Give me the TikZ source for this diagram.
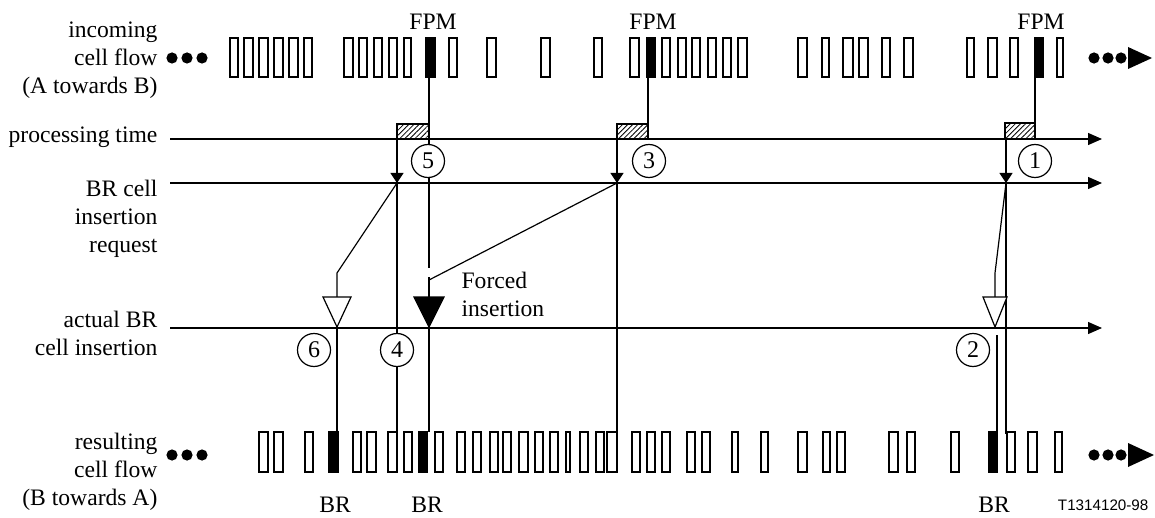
\documentclass[tikz,border=0pt]{standalone}
\usepackage{fontspec}
\setmainfont{Liberation Serif}
\newfontfamily\sansf{Liberation Sans}
\usetikzlibrary{arrows.meta,patterns.meta}
\begin{document}
\begin{tikzpicture}[x=0.5pt,y=-0.5pt,line width=0.6pt,
  lbl/.style={font=\fontsize{11.8}{14}\selectfont,inner sep=0pt},
  cellbox/.style={draw,line width=0.6pt,fill=white},
  brbox/.style={draw,line width=0.6pt,fill=black},
  num/.style={circle,draw,fill=white,minimum size=16.5pt,inner sep=0pt,font=\fontsize{12}{12}\selectfont},
  hatchbox/.style={draw,pattern={Lines[angle=45,distance=1.8pt,line width=0.4pt]}},
  timeline/.style={-{Triangle[length=7pt,width=6pt]}},
  reqarrow/.style={-{Triangle[length=5pt,width=6.5pt]}},
  opentri/.style={draw,fill=white},
  filltri/.style={draw,fill=black},
]
\useasboundingbox (0,0) rectangle (1155,518);

% ---------- labels on the left
\node[lbl,anchor=east,align=right] (linc) at (158,60) {incoming\\cell flow\\(A towards B)};
\node[lbl,anchor=east] (lproc) at (158,137) {processing time};
\node[lbl,anchor=east,align=right] (lreq) at (158,219) {BR cell\\insertion\\request};
\node[lbl,anchor=east,align=right] (lact) at (158,333) {actual BR\\cell insertion};
\node[lbl,anchor=east,align=right] (lres) at (158,472) {resulting\\cell flow\\(B towards A)};

% ---------- time lines
\coordinate (procA) at (170,139); \coordinate (procB) at (1102,139);
\coordinate (reqA) at (170,183);  \coordinate (reqB) at (1102,183);
\coordinate (actA) at (170,328);  \coordinate (actB) at (1102,328);
\draw[timeline] (procA) -- (procB);
\draw[timeline] (reqA) -- (reqB);
\draw[timeline] (actA) -- (actB);

% ---------- key points
\coordinate (r5) at (397,183);
\coordinate (r3) at (617,183);
\coordinate (r1) at (1006,183);
\coordinate (b6) at (337,432);
\coordinate (b4) at (397,432);
\coordinate (b5) at (429,432);
\coordinate (b3) at (617,432);
\coordinate (b2) at (997,432);
\coordinate (b1) at (1006,434);

% ---------- connectors
% FPM 1 (forced insertion)
\draw (429,77) -- (429,268);
\draw (429,277) -- (429,297);
\draw (429,327) -- (b5);
\draw[reqarrow] (397,139) -- (r5);
\draw (r5) -- (b4);
\draw (r5) -- (337,273) -- (337,297);
\draw (337,327) -- (b6);
% FPM 2
\draw (648,77) -- (648,124);
\draw[reqarrow] (617,139) -- (r3);
\draw (r3) -- (b3);
\draw (r3) -- (429,280);
% FPM 3
\draw (1035,77) -- (1035,123);
\draw[reqarrow] (1006,139) -- (r1);
\draw (r1) -- (b1);
\draw (r1) -- (995,273) -- (995,297);
\draw (997,335) -- (b2);

% ---------- processing boxes
\draw[hatchbox] (397,124) rectangle (429,139);
\draw[hatchbox] (617,124) rectangle (648,139);
\draw[hatchbox] (1005,123) rectangle (1035,139);

% ---------- insertion triangles
\draw[opentri] (323,297) -- (351,297) -- (337,327) -- cycle;
\draw[filltri] (414,297) -- (444,297) -- (429,327) -- cycle;
\draw[opentri] (983,297) -- (1007,297) -- (995,327) -- cycle;

% ---------- numbered circles
\node[num] (c5) at (428,161) {\raisebox{-2pt}{5}};
\node[num] (c3) at (649,161) {\raisebox{-2pt}{3}};
\node[num] (c1) at (1035,161) {\raisebox{-2pt}{1}};
\node[num] (c6) at (314,350) {\raisebox{-2pt}{6}};
\node[num] (c4) at (397,350) {\raisebox{-2pt}{4}};
\node[num] (c2) at (973,350) {\raisebox{-2pt}{2}};

% ---------- incoming cell flow
\foreach \a/\b in {230/238,244/253,259/268,274/283,289/298,304/312,344/353,359/367,374/382,389/397,404/411,449/457,487/496,541/550,594/602,630/639,662/670,678/686,692/700,708/716,723/731,738/747,798/807,822/829,843/853,859/868,882/890,904/913,967/974,988/997,1010/1018,1057/1063}
  \draw[cellbox] (\a,38) rectangle (\b,77);
\foreach \a/\b in {426/435,647/655,1035/1043}
  \draw[brbox] (\a,38) rectangle (\b,77);

% ---------- resulting cell flow
\foreach \a/\b in {259/268,274/283,305/313,353/361,367/376,388/397,404/412,435/443,457/465,473/481,490/498,503/511,519/528,535/543,550/558,566/570,580/588,596/604,607/617,632/640,647/655,662/670,687/695,702/710,732/738,761/768,798/807,823/830,837/845,889/898,907/915,951/959,1007/1015,1028/1037,1055/1062}
  \draw[cellbox] (\a,432) rectangle (\b,472);
\foreach \a/\b in {329/338,419/427,989/997}
  \draw[brbox] (\a,432) rectangle (\b,472);

% ---------- dots and flow arrows
\foreach \x in {172,187,202} { \fill (\x,58) circle[radius=2.8pt]; \fill (\x,455) circle[radius=2.8pt]; }
\foreach \x in {1094,1108,1121} { \fill (\x,58) circle[radius=2.8pt]; \fill (\x,455) circle[radius=2.8pt]; }
\fill (1128,47) -- (1152,58) -- (1128,69) -- cycle;
\fill (1128,443) -- (1154,455) -- (1128,467) -- cycle;

% ---------- other texts
\node[lbl] (fpm1) at (433,22) {FPM};
\node[lbl] (fpm2) at (653,22) {FPM};
\node[lbl] (fpm3) at (1041,22) {FPM};
\node[lbl] (br1) at (335,505) {BR};
\node[lbl] (br2) at (427,505) {BR};
\node[lbl] (br3) at (994,505) {BR};
\node[lbl,anchor=west,align=left] (forced) at (461,294) {Forced\\insertion};
\node[inner sep=0pt,anchor=east,font=\sansf\fontsize{7.6}{9}\selectfont] (tag) at (1149,505) {T1314120-98};
\end{tikzpicture}
\end{document}
